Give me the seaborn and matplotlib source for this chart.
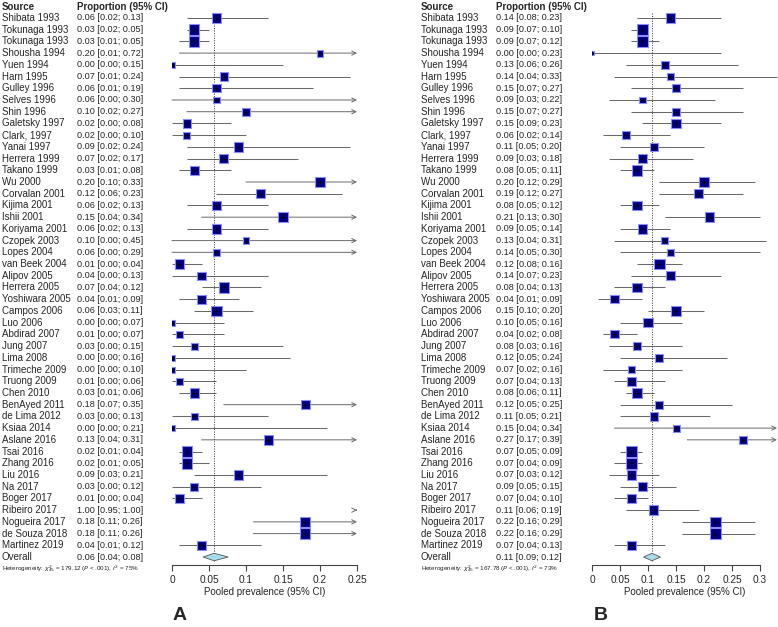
import numpy as np
import pandas as pd
import matplotlib
matplotlib.use("Agg")
import matplotlib.pyplot as plt
import matplotlib.transforms as mtransforms
from matplotlib.patches import Polygon
import seaborn as sns

sources = ["Shibata 1993", "Tokunaga 1993", "Tokunaga 1993", "Shousha 1994", "Yuen 1994",
           "Harn 1995", "Gulley 1996", "Selves 1996", "Shin 1996", "Galetsky 1997",
           "Clark, 1997", "Yanai 1997", "Herrera 1999", "Takano 1999", "Wu 2000",
           "Corvalan 2001", "Kijima 2001", "Ishii 2001", "Koriyama 2001", "Czopek 2003",
           "Lopes 2004", "van Beek 2004", "Alipov 2005", "Herrera 2005", "Yoshiwara 2005",
           "Campos 2006", "Luo 2006", "Abdirad 2007", "Jung 2007", "Lima 2008",
           "Trimeche 2009", "Truong 2009", "Chen 2010", "BenAyed 2011", "de Lima 2012",
           "Ksiaa 2014", "Aslane 2016", "Tsai 2016", "Zhang 2016", "Liu 2016",
           "Na 2017", "Boger 2017", "Ribeiro 2017", "Nogueira 2017", "de Souza 2018",
           "Martinez 2019"]

# panel A
prop_a = [0.06, 0.03, 0.03, 0.20, 0.00, 0.07, 0.06, 0.06, 0.10, 0.02,
          0.02, 0.09, 0.07, 0.03, 0.20, 0.12, 0.06, 0.15, 0.06, 0.10,
          0.06, 0.01, 0.04, 0.07, 0.04, 0.06, 0.00, 0.01, 0.03, 0.00,
          0.00, 0.01, 0.03, 0.18, 0.03, 0.00, 0.13, 0.02, 0.02, 0.09,
          0.03, 0.01, 1.00, 0.18, 0.18, 0.04]
lower_a = [0.02, 0.02, 0.01, 0.01, 0.00, 0.01, 0.01, 0.00, 0.02, 0.00,
           0.00, 0.02, 0.02, 0.01, 0.10, 0.06, 0.02, 0.04, 0.02, 0.00,
           0.00, 0.00, 0.00, 0.04, 0.01, 0.03, 0.00, 0.00, 0.00, 0.00,
           0.00, 0.00, 0.01, 0.07, 0.00, 0.00, 0.04, 0.01, 0.01, 0.03,
           0.00, 0.00, 0.95, 0.11, 0.11, 0.01]
upper_a = [0.13, 0.05, 0.05, 0.72, 0.15, 0.24, 0.19, 0.30, 0.27, 0.08,
           0.10, 0.24, 0.17, 0.08, 0.33, 0.23, 0.13, 0.34, 0.13, 0.45,
           0.29, 0.04, 0.13, 0.12, 0.09, 0.11, 0.07, 0.07, 0.15, 0.16,
           0.10, 0.06, 0.06, 0.35, 0.13, 0.21, 0.31, 0.04, 0.05, 0.21,
           0.12, 0.04, 1.00, 0.26, 0.26, 0.12]
weight_a = [2.2, 2.8, 2.8, 1.2, 0.9, 1.7, 1.7, 1.2, 1.7, 1.7,
            1.2, 2.2, 2.2, 2.2, 2.8, 2.2, 2.2, 2.2, 2.2, 1.2,
            1.2, 2.2, 1.7, 2.8, 2.2, 2.8, 0.9, 1.2, 1.2, 0.9,
            0.9, 1.2, 2.2, 2.2, 1.2, 0.9, 2.2, 2.8, 2.8, 2.2,
            1.7, 1.7, 1.7, 2.8, 2.8, 2.2]
pooled_a = [0.057, 0.042, 0.076]
het_a = r"Heterogeneity: $\chi^2_{45}$ = 179.12 ($P$ < .001), $I^2$ = 75%"

# panel B
prop_b = [0.14, 0.09, 0.09, 0.00, 0.13, 0.14, 0.15, 0.09, 0.15, 0.15,
          0.06, 0.11, 0.09, 0.08, 0.20, 0.19, 0.08, 0.21, 0.09, 0.13,
          0.14, 0.12, 0.14, 0.08, 0.04, 0.15, 0.10, 0.04, 0.08, 0.12,
          0.07, 0.07, 0.08, 0.12, 0.11, 0.15, 0.27, 0.07, 0.07, 0.07,
          0.09, 0.07, 0.11, 0.22, 0.22, 0.07]
lower_b = [0.08, 0.07, 0.07, 0.00, 0.06, 0.04, 0.07, 0.03, 0.07, 0.09,
           0.02, 0.05, 0.03, 0.05, 0.12, 0.12, 0.05, 0.13, 0.05, 0.04,
           0.05, 0.08, 0.07, 0.04, 0.01, 0.10, 0.05, 0.02, 0.03, 0.05,
           0.02, 0.04, 0.06, 0.05, 0.05, 0.04, 0.17, 0.05, 0.04, 0.03,
           0.05, 0.04, 0.06, 0.16, 0.16, 0.04]
upper_b = [0.23, 0.10, 0.12, 0.23, 0.26, 0.33, 0.27, 0.22, 0.27, 0.23,
           0.14, 0.20, 0.18, 0.11, 0.29, 0.27, 0.12, 0.30, 0.14, 0.31,
           0.30, 0.16, 0.23, 0.13, 0.09, 0.20, 0.16, 0.08, 0.16, 0.24,
           0.16, 0.13, 0.11, 0.25, 0.21, 0.34, 0.39, 0.09, 0.09, 0.12,
           0.15, 0.10, 0.19, 0.29, 0.29, 0.13]
weight_b = [2.2, 2.8, 2.8, 0.3, 1.7, 1.2, 1.7, 1.2, 1.7, 2.2,
            1.7, 1.7, 1.7, 2.8, 2.8, 2.2, 2.2, 2.2, 2.2, 1.2,
            1.2, 2.8, 2.2, 2.2, 1.7, 2.8, 2.2, 1.7, 1.7, 1.7,
            1.2, 2.2, 2.2, 1.7, 1.7, 1.2, 1.7, 2.8, 2.8, 2.2,
            2.2, 2.2, 2.2, 2.8, 2.8, 2.2]
pooled_b = [0.107, 0.092, 0.122]
het_b = r"Heterogeneity: $\chi^2_{45}$ = 167.78 ($P$ < .001), $I^2$ = 73%"

ticks_a = [0, 0.05, 0.1, 0.15, 0.2, 0.25]
ticks_b = [0, 0.05, 0.1, 0.15, 0.2, 0.25, 0.3]

sns.set_style("white")
plt.rcParams['font.family'] = ['Liberation Sans', 'DejaVu Sans']

LINE = "#6a6a6a"


def forest(fig, ax, est, lo, hi, w, pooled, xmax, ticks, het, x_src, x_prop, panel, panel_x):
    n = len(sources)
    rows = np.arange(n)
    df = pd.DataFrame({"source": sources, "est": est, "lo": lo, "hi": hi, "w": w, "row": rows})

    # confidence interval lines with arrows past the axis limit
    for _, r in df.iterrows():
        if r.lo >= xmax:
            ax.annotate("", xy=(xmax, r.row), xytext=(xmax - 0.001, r.row),
                        arrowprops=dict(arrowstyle="->,head_length=0.3,head_width=0.15",
                                        color=LINE, lw=0.7, shrinkA=0, shrinkB=0),
                        annotation_clip=False)
        elif r.hi > xmax:
            ax.annotate("", xy=(xmax, r.row), xytext=(r.lo, r.row),
                        arrowprops=dict(arrowstyle="->,head_length=0.3,head_width=0.15",
                                        color=LINE, lw=0.7, shrinkA=0, shrinkB=0),
                        annotation_clip=False)
        else:
            ax.hlines(r.row, r.lo, r.hi, color=LINE, lw=0.75, clip_on=False)

    sns.scatterplot(data=df, x="est", y="row", size="w", sizes=(0, 62), size_norm=(0, 3),
                    marker="s", color="#00007f", edgecolor="#8c8cff", linewidth=0.8,
                    legend=False, ax=ax, zorder=3)
    ax.plot(df["est"], df["row"], "+", color="black", ms=3, mew=0.5, zorder=4)

    # pooled estimate
    ax.vlines(pooled[0], -0.45, n + 0.3, color="#333333", lw=0.7, linestyles=(0, (1, 1.5)), zorder=2)
    dia = Polygon([(pooled[1], n), (pooled[0], n - 0.32), (pooled[2], n), (pooled[0], n + 0.32)],
                  closed=True, facecolor="#a8dcec", edgecolor="#555555", lw=0.6, zorder=3)
    ax.add_patch(dia)

    ax.set_xlim(0, xmax)
    ax.set_ylim(n + 0.68, -0.51)
    ax.set_xticks(ticks)
    ax.set_xticklabels([f"{t:g}" for t in ticks])
    ax.set_yticks([])
    ax.set_ylabel("")
    ax.set_xlabel("Pooled prevalence (95% CI)", fontsize=7, labelpad=1.5)
    for s in ["left", "top", "right"]:
        ax.spines[s].set_visible(False)
    ax.spines["bottom"].set_color("#444444")
    ax.spines["bottom"].set_linewidth(0.8)
    ax.spines["bottom"].set_bounds(ticks[0], ticks[-1])
    ax.tick_params(axis="x", direction="out", length=4, width=0.8, color="#444444",
                   labelsize=7.3, pad=3, bottom=True)

    # text columns
    trans = mtransforms.blended_transform_factory(fig.transFigure, ax.transData)
    ax.text(x_src, -0.95, "Source", transform=trans, fontsize=7, fontweight="bold", va="center")
    ax.text(x_prop, -0.95, "Proportion (95% CI)", transform=trans, fontsize=7,
            fontweight="bold", va="center")
    for _, r in df.iterrows():
        ax.text(x_src, r.row, r.source, transform=trans, fontsize=7, va="center")
        ax.text(x_prop, r.row, f"{r.est:.2f} [{r.lo:.2f}; {r.hi:.2f}]", transform=trans,
                fontsize=6.6, va="center")
    ax.text(x_src, n, "Overall", transform=trans, fontsize=7, va="center")
    ax.text(x_prop, n, f"{pooled[0]:.2f} [{pooled[1]:.2f}; {pooled[2]:.2f}]", transform=trans,
            fontsize=6.6, va="center")
    ax.text(x_src, n + 1.02, het, transform=trans, fontsize=4.5, va="center")

    fig.text(panel_x, 0.005, panel, fontsize=14, fontweight="bold", ha="center", va="bottom")


fig = plt.figure(figsize=(7.78, 6.27), dpi=100)
ax_a = fig.add_axes([172 / 778, 0.0989, 185 / 778, 0.882])
ax_b = fig.add_axes([592 / 778, 0.0989, 185 / 778, 0.882])

forest(fig, ax_a, prop_a, lower_a, upper_a, weight_a, pooled_a, 0.25, ticks_a, het_a,
       2 / 778, 77 / 778, "A", 180 / 778)
forest(fig, ax_b, prop_b, lower_b, upper_b, weight_b, pooled_b, 0.33, ticks_b, het_b,
       421 / 778, 496 / 778, "B", 601 / 778)

fig.savefig("out.png", dpi=100)
